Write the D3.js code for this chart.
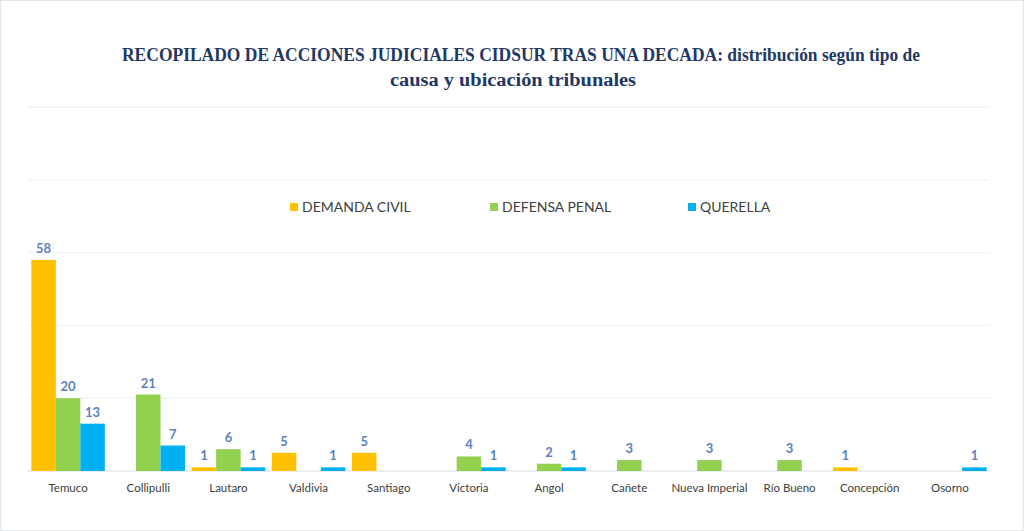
<!DOCTYPE html>
<html>
<head>
<meta charset="utf-8">
<script src="https://cdn.jsdelivr.net/npm/d3@7"></script>
<style>
body{margin:0;background:#fff}
svg{display:block}
</style>
</head>
<body>
<svg width="1024" height="531"></svg>
<script>
const categories=["Temuco","Collipulli","Lautaro","Valdivia","Santiago","Victoria","Angol","Cañete","Nueva Imperial","Río Bueno","Concepción","Osorno"]
const series=["DEMANDA CIVIL","DEFENSA PENAL","QUERELLA"]
const demandaCivil=[58,0,1,5,5,0,0,0,0,0,1,0]
const defensaPenal=[20,21,6,0,0,4,2,3,3,3,0,0]
const querella=[13,7,1,1,0,1,1,0,0,0,0,1]
const yTicks=[0,20,40,60,80,100]
const colors=["#ffc000","#92d050","#00b0f0"]

const values=[demandaCivil,defensaPenal,querella]

const svg=d3.select("svg")
svg.append("rect").attr("x",0.5).attr("y",0.5).attr("width",1023).attr("height",530)
.attr("fill","#fff").attr("stroke","#dfe7ec")

const x0=d3.scaleBand().domain(categories).range([28,990]).paddingInner(0.083).paddingOuter(0.0415)
const x1=d3.scaleBand().domain(series).range([0,x0.bandwidth()])
const y=d3.scaleLinear().domain([0,100]).range([471,107])

// gridlines
svg.append("g").selectAll("line").data(yTicks).join("line")
.attr("x1",28).attr("x2",990)
.attr("y1",d=>y(d)).attr("y2",d=>y(d))
.attr("stroke",d=>d==0?"#e3e8ec":"#eef2f5").attr("stroke-width",1.3)

// title
const title=svg.append("text").attr("text-anchor","middle")
.attr("font-family","Liberation Serif, DejaVu Serif, serif").attr("font-weight","bold")
.attr("font-size",18).attr("fill","#1f3864")
title.append("tspan").attr("x",521).attr("y",61).attr("textLength",798).attr("lengthAdjust","spacingAndGlyphs")
.text("RECOPILADO DE ACCIONES JUDICIALES CIDSUR TRAS UNA DECADA: distribución según tipo de")
title.append("tspan").attr("x",513).attr("y",86).attr("textLength",246).attr("lengthAdjust","spacingAndGlyphs")
.text("causa y ubicación tribunales")

// legend
const legX=[290,490,688]
const leg=svg.append("g").selectAll("g").data(series).join("g")
.attr("transform",(d,i)=>`translate(${legX[i]},207)`)
leg.append("rect").attr("x",0).attr("y",-4).attr("width",8).attr("height",8).attr("fill",(d,i)=>colors[i])
leg.append("text").attr("x",12).attr("y",5).text(d=>d)
.attr("font-family","Lato, Open Sans, sans-serif").attr("font-size",14).attr("fill","#404040")

// bars
const rows=categories.map((c,ci)=>series.map((s,si)=>({c,s,si,v:values[si][ci]})))
const g=svg.append("g").selectAll("g").data(rows).join("g")
.attr("transform",(d,i)=>`translate(${x0(categories[i])},0)`)
const cell=g.selectAll("g").data(d=>d.filter(e=>e.v>0)).join("g")
cell.append("rect")
.attr("x",d=>x1(d.s)).attr("width",x1.bandwidth())
.attr("y",d=>y(d.v)).attr("height",d=>y(0)-y(d.v))
.attr("fill",d=>colors[d.si])
cell.append("text")
.attr("x",d=>x1(d.s)+x1.bandwidth()/2).attr("y",d=>y(d.v)-7)
.attr("text-anchor","middle").attr("font-family","Lato, Open Sans, sans-serif")
.attr("font-weight","bold").attr("font-size",13).attr("fill","#5b82c0")
.text(d=>d.v)

// x axis labels
svg.append("g").selectAll("text").data(categories).join("text")
.attr("x",d=>x0(d)+x0.bandwidth()/2).attr("y",492)
.attr("text-anchor","middle").attr("font-family","Lato, Open Sans, sans-serif")
.attr("font-size",11.5).attr("fill","#404040").text(d=>d)
</script>
</body>
</html>
